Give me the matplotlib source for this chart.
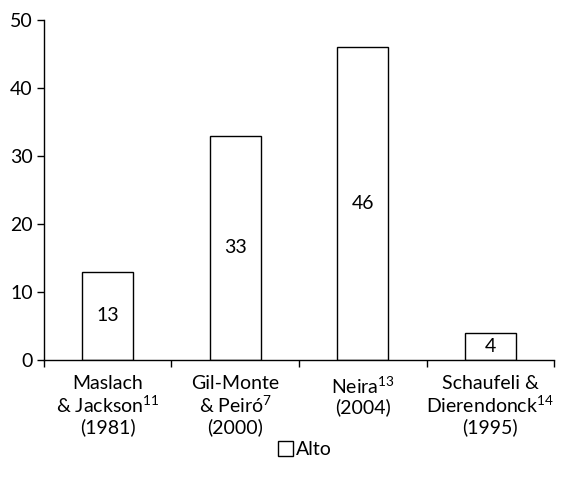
import matplotlib.pyplot as plt
from matplotlib.ticker import FixedLocator

plt.rcParams['font.family'] = ['Lato', 'DejaVu Sans']
plt.rcParams['mathtext.fontset'] = 'custom'
plt.rcParams['mathtext.rm'] = 'Lato'
plt.rcParams['mathtext.it'] = 'Lato'

# Data
categories = [
    'Maslach\n& Jackson$^{11}$\n(1981)',
    'Gil-Monte\n& Peiró$^{7}$\n(2000)',
    'Neira$^{13}$\n(2004)\n',
    'Schaufeli &\nDierendonck$^{14}$\n(1995)',
]
values = [13, 33, 46, 4]
series_name = 'Alto'

fig = plt.figure(figsize=(5.7, 4.87), dpi=100)
ax = fig.add_axes([0.077, 0.261, 0.895, 0.698])

x = list(range(len(values)))
bars = ax.bar(x, values, width=0.4, color='white', edgecolor='black',
              linewidth=1.0, label=series_name)

# value labels in the middle of each bar
for xi, v in zip(x, values):
    ax.text(xi, v / 2, str(v), ha='center', va='center', fontsize=14)

ax.set_xlim(-0.5, len(values) - 0.5)
ax.set_ylim(0, 50)
ax.set_yticks([0, 10, 20, 30, 40, 50])

ax.set_xticks(x)
ax.set_xticklabels(categories, fontsize=14, linespacing=1.15, va='top')
ax.tick_params(axis='x', which='major', length=0, pad=11)
ax.xaxis.set_minor_locator(FixedLocator([i + 0.5 for i in range(-1, len(values))]))
ax.tick_params(axis='x', which='minor', length=5, width=1, direction='out')
ax.tick_params(axis='y', length=5, width=1, direction='out', labelsize=14, pad=3)

for s in ['top', 'right']:
    ax.spines[s].set_visible(False)
ax.spines['left'].set_linewidth(1.0)
ax.spines['bottom'].set_linewidth(1.0)

ax.legend(loc='center', bbox_to_anchor=(0.512, -0.264), frameon=False,
          fontsize=14, handlelength=0.8, handleheight=0.8, handletextpad=0.15)

plt.savefig('out.png', dpi=100)
